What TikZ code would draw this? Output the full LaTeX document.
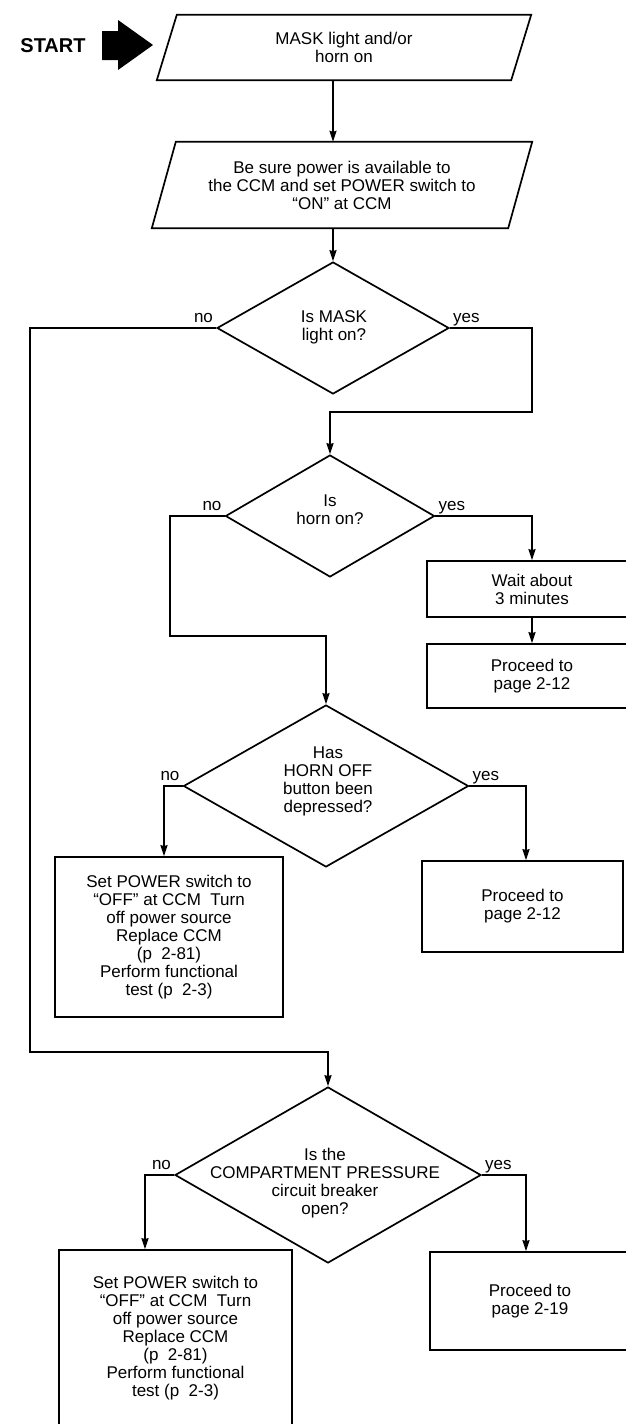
\documentclass[tikz,border=0pt]{standalone}
\usepackage{fontspec}
\setmainfont{Liberation Sans}
\usetikzlibrary{shapes.geometric,arrows.meta,calc}
\begin{document}
\begin{tikzpicture}[x=1pt,y=-1pt,
  every node/.style={font=\fontsize{17}{18}\selectfont},
  line/.style={line width=1.7pt, line join=miter},
  arr/.style={line width=1.7pt,-{Stealth[length=11pt,width=7pt,inset=1pt]}},
  box/.style={draw,line width=1.7pt,rectangle,align=center,inner sep=0pt},
  para/.style={rectangle,align=center,inner sep=0pt},
  dia/.style={draw,line width=1.7pt,diamond,inner sep=0pt},
  txt/.style={align=center,inner sep=0pt},
  lbl/.style={inner sep=0pt},
]
\fill[white] (0,0) rectangle (626,1424);
\useasboundingbox (0,0) rectangle (626,1424);

% start
\node[font=\bfseries\fontsize{20}{20}\selectfont, inner sep=0pt] (start) at (53,46) {START};
\fill (102,31) -- (118,31) -- (118,20) -- (153,45) -- (118,70) -- (118,60) -- (102,60) -- cycle;

% parallelograms
\node[para, minimum width=374, minimum height=65] (p1) at (344,47.5) {MASK light and/or\\horn on};
\draw[line] ($(p1.north west)+(20,0)$) -- (p1.north east) -- ($(p1.south east)+(-20,0)$) -- (p1.south west) -- cycle;

\node[para, minimum width=380, minimum height=86] (p2) at (342,185) {Be sure power is available to\\the CCM and set POWER switch to\\``ON'' at CCM};
\draw[line] ($(p2.north west)+(24,0)$) -- (p2.north east) -- ($(p2.south east)+(-24,0)$) -- (p2.south west) -- cycle;

% diamonds
\node[dia, minimum width=232, minimum height=132] (d1) at (333,328) {};
\node[txt] (t1) at (334,327) {Is MASK\\light on?};
\node[dia, minimum width=209, minimum height=122] (d2) at (330,516) {};
\node[txt] (t2) at (330,510) {Is\\horn on?};
\node[dia, minimum width=285, minimum height=162] (d3) at (326,786) {};
\node[txt] (t3) at (328,781) {Has\\HORN OFF\\button been\\depressed?};
\node[dia, minimum width=306, minimum height=176] (d4) at (328,1175) {};
\node[txt] (t4) at (325,1183) {Is the\\COMPARTMENT PRESSURE\\circuit breaker\\open?};

% boxes
\node[box, minimum width=210, minimum height=56] (w1) at (532,589) {Wait about\\3 minutes};
\node[box, minimum width=210, minimum height=64] (r1) at (532,676) {Proceed to\\page 2-12};
\node[box, minimum width=228, minimum height=160] (b3) at (169,937) {Set POWER switch to\\``OFF'' at CCM~~Turn\\off power source\\Replace CCM\\(p~~2-81)\\Perform functional\\test (p~~2-3)};
\node[box, minimum width=201, minimum height=91] (r3) at (522.5,906.5) {Proceed to\\page 2-12};
\node[box, minimum width=233, minimum height=176] (b4) at (175.5,1338) {Set POWER switch to\\``OFF'' at CCM~~Turn\\off power source\\Replace CCM\\(p~~2-81)\\Perform functional\\test (p~~2-3)};
\node[box, minimum width=200, minimum height=98] (r4) at (530,1301) {Proceed to\\page 2-19};

% labels
\node[lbl, anchor=base east] (n1) at ([xshift=-3pt,yshift=6pt]d1.west) {no};
\node[lbl, anchor=base west] (y1) at ([xshift=3pt,yshift=6pt]d1.east) {yes};
\node[lbl, anchor=base east] (n2) at ([xshift=-3pt,yshift=6pt]d2.west) {no};
\node[lbl, anchor=base west] (y2) at ([xshift=3pt,yshift=6pt]d2.east) {yes};
\node[lbl, anchor=base east] (n3) at ([xshift=-3pt,yshift=6pt]d3.west) {no};
\node[lbl, anchor=base west] (y3) at ([xshift=3pt,yshift=6pt]d3.east) {yes};
\node[lbl, anchor=base east] (n4) at ([xshift=-3pt,yshift=6pt]d4.west) {no};
\node[lbl, anchor=base west] (y4) at ([xshift=3pt,yshift=6pt]d4.east) {yes};

% connectors
\coordinate (c1) at (30,1052);
\coordinate (c2) at (532,412);
\coordinate (c3) at (170,636);
\draw[arr] (p1.south -| d1.north) -- (p2.north -| d1.north);
\draw[arr] (p2.south -| d1.north) -- (d1.north);
\draw[arr] (d1.west) -| (c1) -| (d4.north);
\draw[arr] (d1.east) -| (c2) -| (d2.north);
\draw[arr] (d2.west) -| (c3) -| (d3.north);
\draw[arr] (d2.east) -| (w1.north);
\draw[arr] (w1.south) -- (r1.north);
\draw[arr] (d3.west) -| ([xshift=-5pt]b3.north);
\draw[arr] (d3.east) -| ([xshift=3.5pt]r3.north);
\draw[arr] (d4.west) -| ([xshift=-30.5pt]b4.north);
\draw[arr] (d4.east) -| ([xshift=-4pt]r4.north);
\end{tikzpicture}
\end{document}
